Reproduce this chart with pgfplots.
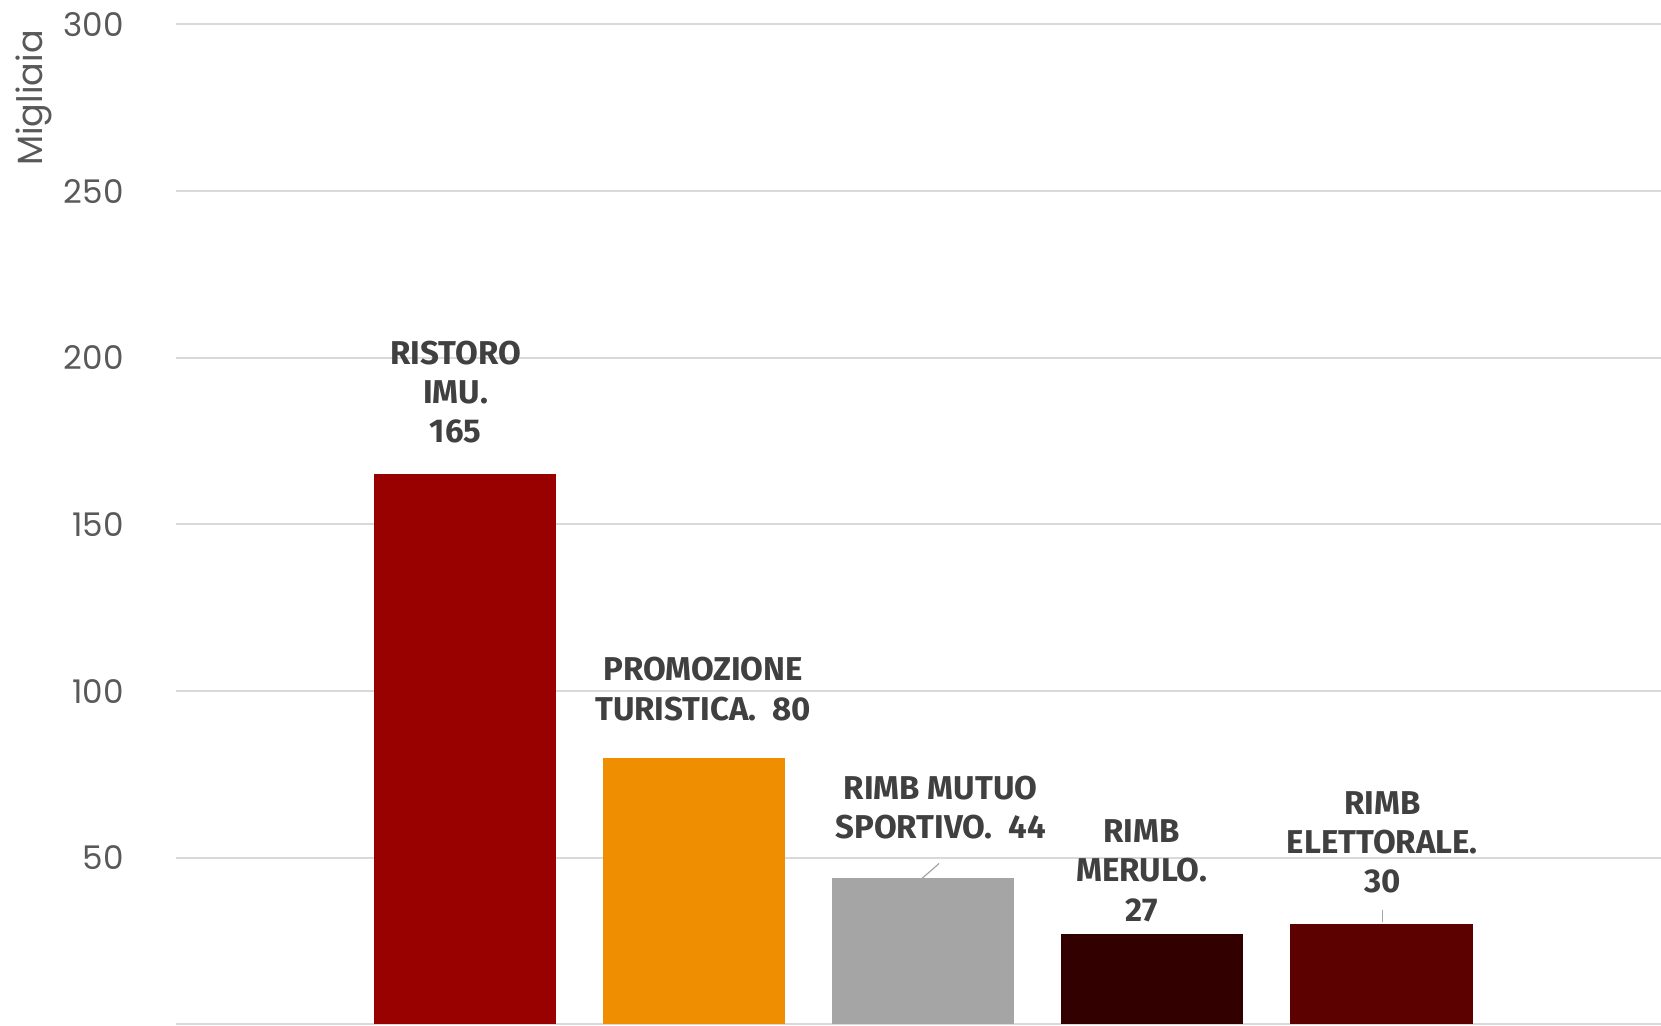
\documentclass[border=0pt]{standalone}
\usepackage{fontspec}
\setmainfont{Poppins}
\newfontfamily\labfont{Fira Sans}
\usepackage{pgfplots}
\pgfplotsset{compat=1.18}
\definecolor{cimu}{HTML}{990000}
\definecolor{cturi}{HTML}{EE8E00}
\definecolor{cmutuo}{HTML}{A5A5A5}
\definecolor{cmerulo}{HTML}{330000}
\definecolor{celett}{HTML}{5C0000}
\definecolor{ctick}{HTML}{595959}
\definecolor{clab}{HTML}{404040}
\definecolor{cgrid}{HTML}{D9D9D9}
\begin{document}
\begin{tikzpicture}
\useasboundingbox (-88pt,-0.75pt) rectangle (742.5pt,512.25pt);
\begin{axis}[
    at={(0,0)}, anchor=south west,
    scale only axis, width=742.5pt, height=500pt,
    ymin=0, ymax=300, xmin=-1.26, xmax=5.22,
    ytick={0,50,...,300},
    yticklabels={,50,100,150,200,250,300},
    xtick=\empty,
    major tick length=0pt,
    axis line style={draw=none},
    ymajorgrids=true,
    grid style={draw=cgrid, line width=1pt},
    /pgf/number format/assume math mode=true,
    yticklabel style={font=\fontsize{16.3}{16.3}\selectfont, text=ctick, anchor=east, inner sep=0pt, xshift=-26pt},
    ylabel={Migliaia},
    ylabel style={at={(axis description cs:-0.0955,0.9265)}, anchor=center, font=\fontsize{17.5}{17.5}\selectfont, text=ctick},
    ybar, bar width=0.795, bar shift=0pt,
    clip=false,
]
\addplot[fill=cimu, draw=none] coordinates {(0,165)};
\addplot[fill=cturi, draw=none] coordinates {(1,80)};
\addplot[fill=cmutuo, draw=none] coordinates {(2,44)};
\addplot[fill=cmerulo, draw=none] coordinates {(3,27)};
\addplot[fill=celett, draw=none] coordinates {(4,30)};
% leader lines
\addplot[sharp plot, draw=cmutuo, line width=0.6pt, forget plot] coordinates {(1.99,43.5) (2.07,48.3)};
\addplot[sharp plot, draw=cmutuo, line width=0.6pt, forget plot] coordinates {(4.004,30.8) (4.004,34.4)};
\tikzset{lab/.style={align=center, text=clab, font=\labfont\bfseries\fontsize{16.5}{19.6}\selectfont, inner sep=0pt}}
\node[lab] at (axis cs:-0.04,189.7) {RISTORO\\IMU.\\165};
\node[lab] at (axis cs:1.04,100.6) {PROMOZIONE\\TURISTICA.\ \ 80};
\node[lab] at (axis cs:2.076,65.1) {RIMB MUTUO\\SPORTIVO.\ \ 44};
\node[lab] at (axis cs:2.954,46.1) {RIMB\\MERULO.\\27};
\node[lab] at (axis cs:4.004,54.7) {RIMB\\ELETTORALE.\\30};
\end{axis}
\end{tikzpicture}
\end{document}
